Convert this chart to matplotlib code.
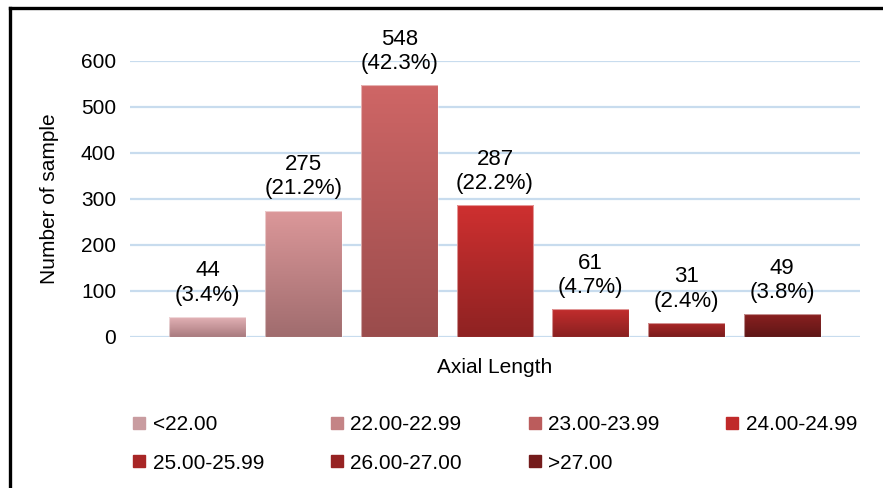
import numpy as np
import matplotlib
matplotlib.use("Agg")
import matplotlib.pyplot as plt
from matplotlib.lines import Line2D
from matplotlib.colors import LinearSegmentedColormap

plt.rcParams['font.family'] = ['Liberation Sans', 'DejaVu Sans']

categories = ['<22.00', '22.00-22.99', '23.00-23.99', '24.00-24.99',
              '25.00-25.99', '26.00-27.00', '>27.00']
counts = [44, 275, 548, 287, 61, 31, 49]
percents = ['3.4%', '21.2%', '42.3%', '22.2%', '4.7%', '2.4%', '3.8%']
top_colors = ['#e6b4b8', '#dc989a', '#cf6666', '#cf3030', '#c42e2e', '#ad2828', '#8a2020']
bottom_colors = ['#a87a7e', '#a06c6e', '#9a4c4c', '#8e2222', '#8a2020', '#7a1c1c', '#5e1616']
legend_colors = ['#c99ca0', '#c48486', '#bb5c5c', '#c02a2a', '#a82626', '#962222', '#741b1b']

fig = plt.figure(figsize=(8.83, 4.88), dpi=100)
ax = fig.add_axes([130/883, 151/488, 730/883, (337-61)/488])

x = np.arange(len(categories))
width = 0.8
bars = ax.bar(x, counts, width=width, color='none', edgecolor='none', zorder=3)
grad = np.linspace(0, 1, 256).reshape(-1, 1)
for b, tc, bc in zip(bars, top_colors, bottom_colors):
    cmap = LinearSegmentedColormap.from_list('g', [bc, tc])
    x0, y0 = b.get_x(), b.get_y()
    w, h = b.get_width(), b.get_height()
    im = ax.imshow(grad, cmap=cmap, aspect='auto', origin='lower',
                   extent=[x0, x0 + w, y0, y0 + h], zorder=3)
    im.set_clip_path(b)
    ax.add_patch(plt.Rectangle((x0, y0), w, h, fill=False,
                               edgecolor=(1, 1, 1, 0.5), lw=0.8, zorder=4))

for xi, c, p in zip(x, counts, percents):
    ax.annotate(f'{c}\n({p})', (xi, c), xytext=(0, 8), textcoords='offset points',
                ha='center', va='bottom', fontsize=16, linespacing=1.2,
                annotation_clip=False, zorder=5)

ax.set_xlim(-0.5 - 30/96, 6.5 + 30/96)
ax.set_ylim(0, 600)
ax.set_yticks([0, 100, 200, 300, 400, 500, 600])
ax.set_xticks([])
ax.yaxis.grid(True, color='#c8dcee', lw=1.6, zorder=0)
ax.set_axisbelow(True)
for s in ax.spines.values():
    s.set_visible(False)
ax.tick_params(axis='y', length=0, labelsize=15, pad=10)
ax.set_ylabel('Number of sample', fontsize=15, labelpad=16)
ax.set_xlabel('Axial Length', fontsize=15, labelpad=15)

order = [0, 4, 1, 5, 2, 6, 3]
handles = [Line2D([], [], marker='s', linestyle='none', markersize=8,
                  markerfacecolor=legend_colors[i], markeredgecolor=legend_colors[i])
           for i in order]
labels = [categories[i] for i in order]
fig.legend(handles, labels, ncol=4, loc='upper left',
           bbox_to_anchor=(132/883, 1 - 415/488), frameon=False,
           fontsize=15, handlelength=0.7, handletextpad=0.3,
           columnspacing=3.14, labelspacing=0.95, borderaxespad=0, borderpad=0)

fig.add_artist(Line2D([10/883, 10/883], [0, 1 - 8/488], color='black', lw=2.4,
                      transform=fig.transFigure))
fig.add_artist(Line2D([10/883, 1], [1 - 8/488, 1 - 8/488], color='black', lw=2.4,
                      transform=fig.transFigure))

fig.savefig('out.png', dpi=100)
